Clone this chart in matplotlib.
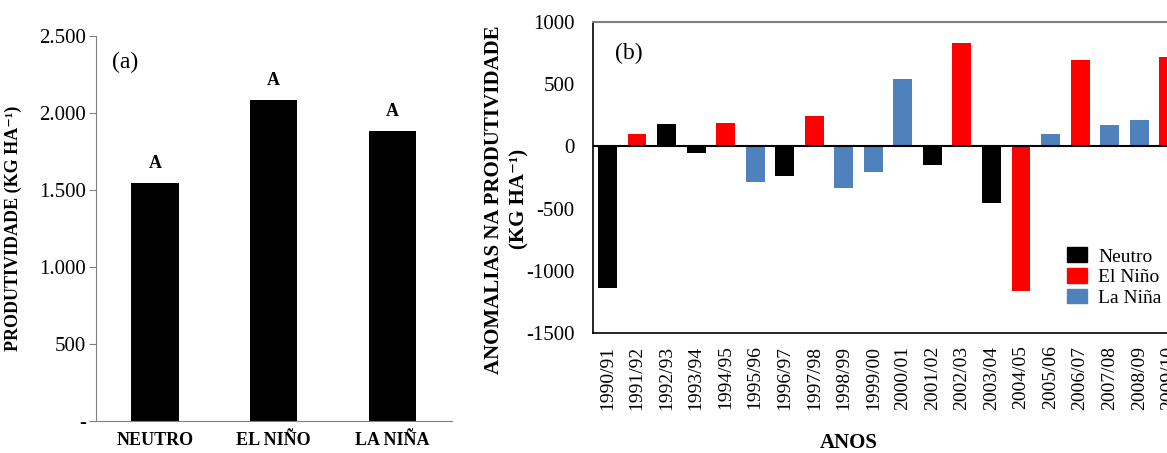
import matplotlib
matplotlib.use("Agg")
import matplotlib.pyplot as plt
from matplotlib.patches import Patch

# ---- data: panel (a) ----
phases = ["NEUTRO", "EL NIÑO", "LA NIÑA"]
productivity = [1545, 2083, 1882]
letters = ["A", "A", "A"]

# ---- data: panel (b) ----
seasons = ["1990/91", "1991/92", "1992/93", "1993/94", "1994/95", "1995/96",
           "1996/97", "1997/98", "1998/99", "1999/00", "2000/01", "2001/02",
           "2002/03", "2003/04", "2004/05", "2005/06", "2006/07", "2007/08",
           "2008/09", "2009/10"]
anomalies = [-1140, 96, 177, -54, 185, -287, -239, 241, -338, -206, 538, -150,
             828, -456, -1163, 102, 691, 171, 215, 715]
phase_of_season = ["N", "E", "N", "N", "E", "L", "N", "E", "L", "L", "L", "N",
                   "E", "N", "E", "L", "E", "L", "L", "E"]

colors = {"N": "#000000", "E": "#FF0000", "L": "#4F81BD"}
names = {"N": "Neutro", "E": "El Niño", "L": "La Niña"}

plt.rcParams["font.family"] = ["Liberation Serif", "DejaVu Serif"]

fig = plt.figure(figsize=(11.67, 4.53), dpi=100)

# ==========================================
# panel (a)
# ==========================================
ax1 = fig.add_axes([0.082, 0.0713, 0.305, 0.8492])
x1 = range(len(phases))
ax1.bar(x1, productivity, width=0.4, color="black")
for xi, v, lt in zip(x1, productivity, letters):
    ax1.annotate(lt, (xi, v), xytext=(0, 14), textcoords="offset points",
                 ha="center", va="center", fontsize=13, fontweight="bold")
ax1.set_xlim(-0.5, 2.5)
ax1.set_ylim(0, 2500)
ax1.set_yticks([0, 500, 1000, 1500, 2000, 2500])
ax1.set_yticklabels(["-", "500", "1.000", "1.500", "2.000", "2.500"], fontsize=15)
ax1.set_xticks(list(x1))
ax1.set_xticklabels(phases, fontsize=13, fontweight="bold")
ax1.tick_params(axis="x", length=0, pad=8)
ax1.tick_params(axis="y", length=5, color="#808080", pad=2)
for s in ["top", "right"]:
    ax1.spines[s].set_visible(False)
for s in ["left", "bottom"]:
    ax1.spines[s].set_color("#808080")
ax1.set_ylabel("PRODUTIVIDADE (KG HA⁻¹)", fontsize=13,
               fontweight="bold", labelpad=12)
ax1.text(0.045, 0.93, "(a)", transform=ax1.transAxes, fontsize=17,
         va="center", ha="left")

# ==========================================
# panel (b)
# ==========================================
ax2 = fig.add_axes([0.5079, 0.2649, 0.5062, 0.6865])
x2 = range(len(seasons))
bar_colors = [colors[p] for p in phase_of_season]
ax2.bar(x2, anomalies, width=0.64, color=bar_colors)
ax2.axhline(0, color="black", lw=1.5)
ax2.set_xlim(-0.5, len(seasons) - 0.5)
ax2.set_ylim(-1500, 1000)
ax2.set_yticks([-1500, -1000, -500, 0, 500, 1000])
ax2.set_yticklabels(["-1500", "-1000", "-500", "0", "500", "1000"], fontsize=15)
ax2.set_xticks(list(x2))
ax2.set_xticklabels(seasons, rotation=90, fontsize=14)
ax2.tick_params(axis="both", length=0)
ax2.tick_params(axis="y", pad=13)
ax2.tick_params(axis="x", pad=9)
ax2.spines["top"].set_color("#808080")
ax2.spines["top"].set_linewidth(1.5)
ax2.spines["left"].set_linewidth(1.2)
ax2.spines["bottom"].set_linewidth(1.2)
ax2.text(0.038, 0.9, "(b)", transform=ax2.transAxes, fontsize=17,
         va="center", ha="left")

fig.text(0.423, 0.56, "ANOMALIAS NA PRODUTIVIDADE", rotation=90,
         fontsize=15, fontweight="bold", ha="center", va="center")
fig.text(0.445, 0.56, "(KG HA⁻¹)", rotation=90,
         fontsize=15, fontweight="bold", ha="center", va="center")
fig.text(0.727, 0.0, "ANOS", fontsize=15, fontweight="bold",
         ha="center", va="bottom")

handles = [Patch(color=colors[k], label=names[k]) for k in ["N", "E", "L"]]
ax2.legend(handles=handles, loc="upper left", bbox_to_anchor=(0.79, 0.3),
           frameon=False, fontsize=14, handlelength=1.0, handleheight=0.8,
           handletextpad=0.6, labelspacing=0.12, borderaxespad=0)

fig.savefig("out.png", dpi=100)
